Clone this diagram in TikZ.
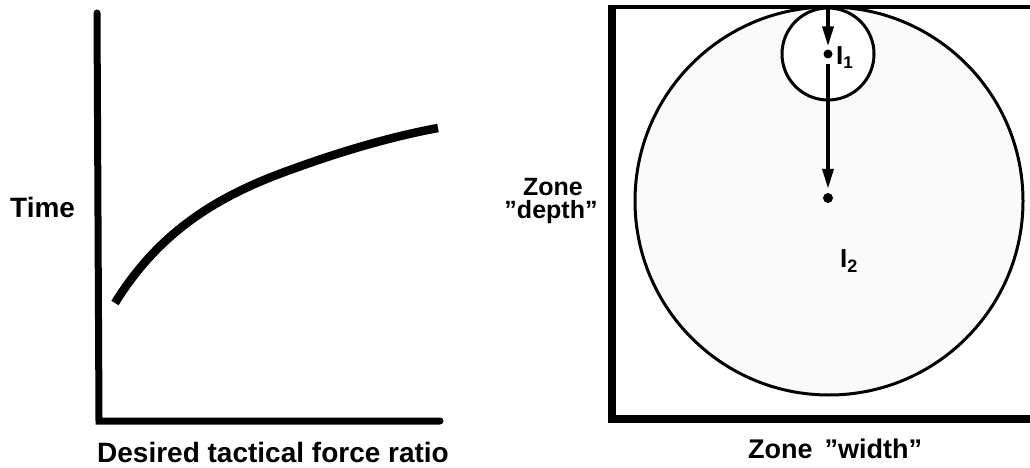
\documentclass[tikz,border=0pt]{standalone}
\usepackage{fontspec}
\setmainfont{Liberation Sans}
\usetikzlibrary{arrows.meta}
\begin{document}
\begin{tikzpicture}[x=1pt,y=-1pt,
  lbl/.style={font=\bfseries\fontsize{28}{30}\selectfont, inner sep=0pt},
  zlbl/.style={font=\bfseries\fontsize{25}{27}\selectfont, inner sep=0pt},
  ilbl/.style={font=\bfseries\fontsize{26}{28}\selectfont, inner sep=0pt},
  axisline/.style={line width=7pt, line cap=round, line join=miter},
  curveline/.style={line width=8.5pt},
  ring/.style={circle, draw, line width=3pt, inner sep=0pt},
  dot/.style={circle, fill=black, inner sep=0pt, minimum size=9pt},
  arr/.style={line width=3.5pt, -{Triangle[length=20pt,width=11pt]}}
]
\useasboundingbox (0,0) rectangle (1030,468);
\clip (0,0) rectangle (1030,468);

% ---- left graph ----
\coordinate (ytop) at (97,13);
\coordinate (orig) at (99,421);
\coordinate (xend) at (440,421);
\draw[axisline] (ytop) -- (orig) -- (xend);
\coordinate (c0) at (115,303);
\coordinate (c1) at (290,170);
\coordinate (c2) at (438,128);
\draw[curveline] (c0) .. controls (160,230) and (220,195) .. (c1)
                      .. controls (350,148) and (400,135) .. (c2);
\node[lbl, anchor=base west] (time) at (10,217) {Time};
\node[lbl, anchor=base west] (xlab) at (97,462) {Desired tactical force ratio};

% ---- right diagram ----
\node[ring, minimum size=388pt, fill=black!2] (big) at (829,201) {};
\node[ring, minimum size=92pt, fill=white] (small) at (828,54) {};
\draw[line width=4pt] (612,7) -- (1040,7);
\draw[line width=8pt, line join=miter] (612,5) -- (612,419) -- (1040,419);

\coordinate (top) at (828,7);
\node[dot] (i1) at (828,54) {};
\node[dot, minimum size=10pt] (i2) at (828,198) {};
\draw[arr, shorten >=3pt] (top) -- (i1.north);
\draw[arr, shorten <=5pt, shorten >=4pt] (i1.south) -- (i2.north);

\node[ilbl, anchor=base west] (l1) at (836,65) {I\raisebox{-4pt}{\fontsize{17}{17}\selectfont 1}};
\node[ilbl, anchor=base west] (l2) at (840,267) {I\raisebox{-5pt}{\fontsize{18}{18}\selectfont 2}};

\node[zlbl, anchor=base] (zone) at (553,195) {Zone};
\node[zlbl, anchor=base] (depth) at (551,218) {''depth''};
\node[zlbl, anchor=base, font=\bfseries\fontsize{27}{29}\selectfont] (width) at (835,458) {Zone \,''width''};
\end{tikzpicture}
\end{document}
